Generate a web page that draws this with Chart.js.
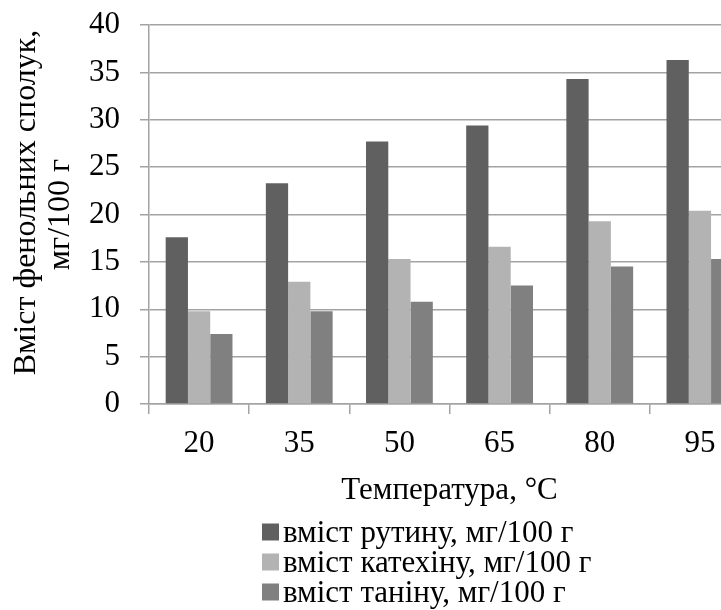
<!DOCTYPE html>
<html>
<head>
<meta charset="utf-8">
<script src="https://cdn.jsdelivr.net/npm/chart.js@4/dist/chart.umd.min.js"></script>
<style>
  html, body { margin: 0; padding: 0; background: #fff; overflow: hidden; }
  #wrap { position: relative; width: 760px; height: 610px; }
</style>
</head>
<body>
<div id="wrap"><canvas id="c"></canvas></div>
<script>
const categories = ['20', '35', '50', '65', '80', '95'];
const rutin = [17.6, 23.3, 27.7, 29.4, 34.3, 36.3];
const catechin = [9.8, 12.9, 15.3, 16.6, 19.3, 20.4];
const tannin = [7.4, 9.8, 10.8, 12.5, 14.5, 15.3];
const seriesLabels = ['вміст рутину, мг/100 г', 'вміст катехіну, мг/100 г', 'вміст таніну, мг/100 г'];
const yTitle = ['\u00A0\u00A0\u00A0Вміст фенольних сполук,', 'мг/100 г'];
const xTitle = 'Температура, °C';
const yMin = 0, yMax = 40, yStep = 5;

const FONT = '"Liberation Serif", "Times New Roman", serif';
const FS = 31;
const GRID = '#a3a3a3';

const bottomLegend = {
  id: 'bottomLegend',
  afterDraw(chart) {
    const ctx = chart.ctx;
    ctx.save();
    ctx.font = FS + 'px ' + FONT;
    ctx.textBaseline = 'alphabetic';
    ctx.textAlign = 'left';
    chart.data.datasets.forEach((ds, i) => {
      const base = 541.5 + i * 30;
      ctx.fillStyle = ds.backgroundColor;
      ctx.fillRect(262, base - 18, 17, 17);
      ctx.fillStyle = '#000';
      ctx.fillText(ds.label, 283, base);
    });
    ctx.restore();
  }
};

new Chart(document.getElementById('c'), {
  type: 'bar',
  data: {
    labels: categories,
    datasets: [
      { label: seriesLabels[0], data: rutin, backgroundColor: '#606060' },
      { label: seriesLabels[1], data: catechin, backgroundColor: '#b3b3b3' },
      { label: seriesLabels[2], data: tannin, backgroundColor: '#808080' }
    ]
  },
  options: {
    responsive: true,
    maintainAspectRatio: false,
    animation: false,
    datasets: { bar: { categoryPercentage: 0.667, barPercentage: 1.0 } },
    layout: { padding: { top: 25, right: 10, bottom: 100, left: 0 } },
    plugins: { legend: { display: false }, tooltip: { enabled: false } },
    scales: {
      x: {
        offset: true,
        grid: { display: true, drawOnChartArea: false, drawTicks: true, tickLength: 10, color: GRID, lineWidth: 1.5, offset: true },
        border: { display: true, color: GRID, width: 1.5 },
        ticks: { color: '#000', padding: 11, maxRotation: 0, font: { family: FONT, size: FS, lineHeight: 1.2 } },
        title: { display: true, text: xTitle, color: '#000', padding: { top: 0, bottom: 2 }, font: { family: FONT, size: FS, lineHeight: 1.1 } },
        afterFit(s) { s.height = 106; s.paddingLeft = 0; s.paddingRight = 0; }
      },
      y: {
        min: yMin, max: yMax,
        grid: { color: GRID, lineWidth: 1.5, drawTicks: true, tickLength: 9 },
        border: { display: true, color: GRID, width: 1.5 },
        ticks: { stepSize: yStep, color: '#000', padding: 20, font: { family: FONT, size: FS, lineHeight: 1.2 } },
        title: { display: true, text: yTitle, color: '#000', padding: { top: 10, bottom: 0 }, font: { family: FONT, size: 32, lineHeight: 1.06 } },
        afterFit(s) { s.width = 149; s.paddingTop = 0; s.paddingBottom = 0; }
      }
    }
  },
  plugins: [bottomLegend]
});
</script>
</body>
</html>
